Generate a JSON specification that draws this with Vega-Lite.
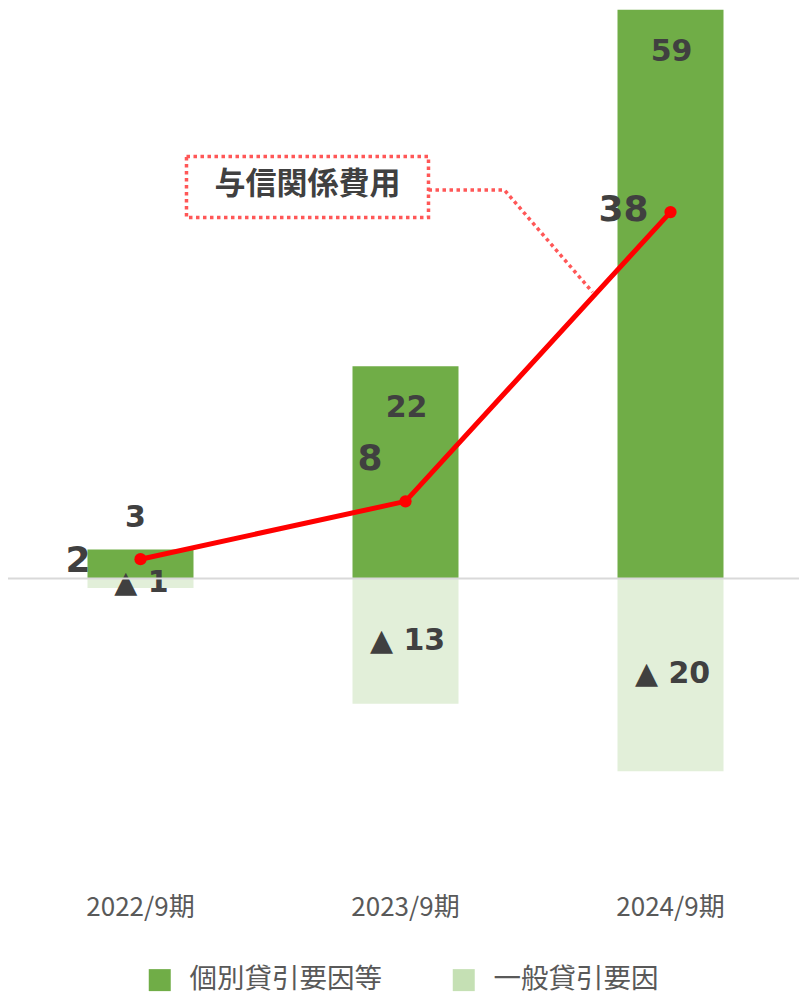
{
  "$schema": "https://vega.github.io/schema/vega-lite/v6.json",
  "autosize": "none",
  "width": 795,
  "height": 887,
  "padding": {"left": 8, "top": 0, "right": 0, "bottom": 109},
  "background": "white",
  "config": {"view": {"stroke": null}, "font": "Noto Sans CJK JP"},
  "data": {
    "values": [
      {"period": "2022/9期", "series": "個別貸引要因等", "value": 3, "label": "3"},
      {"period": "2022/9期", "series": "一般貸引要因", "value": -1, "label": "▲ 1"},
      {"period": "2022/9期", "series": "与信関係費用", "value": 2, "label": "2"},
      {"period": "2023/9期", "series": "個別貸引要因等", "value": 22, "label": "22"},
      {"period": "2023/9期", "series": "一般貸引要因", "value": -13, "label": "▲ 13"},
      {"period": "2023/9期", "series": "与信関係費用", "value": 8, "label": "8"},
      {"period": "2024/9期", "series": "個別貸引要因等", "value": 59, "label": "59"},
      {"period": "2024/9期", "series": "一般貸引要因", "value": -20, "label": "▲ 20"},
      {"period": "2024/9期", "series": "与信関係費用", "value": 38, "label": "38"}
    ]
  },
  "layer": [
    {
      "encoding": {
        "x": {
          "field": "period", "type": "nominal",
          "sort": ["2022/9期", "2023/9期", "2024/9期"],
          "scale": {"paddingInner": 0.6, "paddingOuter": 0.3},
          "axis": {"title": null, "domain": false, "ticks": false, "tickSize": 0, "labelAngle": 0, "labelPadding": 7, "labelFont": "Noto Sans CJK JP", "labelFontSize": 26, "labelColor": "#595959", "labelBaseline": "top"}
        },
        "y": {
          "field": "value", "type": "quantitative",
          "scale": {"domain": [-32, 60], "nice": false, "zero": true},
          "axis": null
        }
      },
      "layer": [
        {
          "transform": [{"filter": "datum.series === '個別貸引要因等'"}],
          "mark": {"type": "bar"},
          "encoding": {
            "color": {
              "field": "series", "type": "nominal",
              "scale": {"domain": ["個別貸引要因等", "一般貸引要因"], "range": ["#70AD47", "#C5E0B4"]},
              "legend": {"title": null, "orient": "none", "direction": "horizontal", "legendX": 138, "legendY": 966, "symbolType": "square", "symbolSize": 484, "symbolStrokeWidth": 0, "symbolOpacity": 1, "labelFont": "Noto Sans CJK JP", "labelFontSize": 27.5, "labelColor": "#595959", "labelOffset": 16, "labelLimit": 400, "columnPadding": 68,
                "encode": {"symbols": {"update": {"opacity": {"value": 1}, "fillOpacity": {"value": 1}}}}}
            }
          }
        },
        {
          "transform": [{"filter": "datum.series === '一般貸引要因'"}],
          "mark": {"type": "bar", "opacity": 0.5},
          "encoding": {"color": {"field": "series", "type": "nominal"}}
        },
        {
          "transform": [{"filter": "datum.series === '与信関係費用'"}],
          "mark": {"type": "line", "color": "#FF0000", "strokeWidth": 5},
          "encoding": {}
        },
        {
          "transform": [{"filter": "datum.series === '与信関係費用'"}],
          "mark": {"type": "point", "filled": true, "color": "#FF0000", "size": 150, "opacity": 1},
          "encoding": {}
        },
        {
          "transform": [{"filter": "datum.series === '個別貸引要因等' && datum.period === '2022/9期'"}],
          "mark": {"type": "text", "font": "DejaVu Sans", "fontWeight": "bold", "fontSize": 30, "color": "#404040", "dx": -5, "dy": -32, "baseline": "middle"},
          "encoding": {"text": {"field": "label"}}
        },
        {
          "transform": [{"filter": "datum.series === '個別貸引要因等' && datum.period !== '2022/9期'"}],
          "mark": {"type": "text", "font": "DejaVu Sans", "fontWeight": "bold", "fontSize": 30, "color": "#404040", "dx": 1, "dy": 42, "baseline": "middle"},
          "encoding": {"text": {"field": "label"}}
        },
        {
          "transform": [{"filter": "datum.series === '一般貸引要因' && datum.period === '2022/9期'"}],
          "mark": {"type": "text", "font": "DejaVu Sans", "fontWeight": "bold", "fontSize": 30, "color": "#404040", "dx": 1, "dy": -5, "baseline": "middle"},
          "encoding": {"text": {"field": "label"}}
        },
        {
          "transform": [{"filter": "datum.series === '一般貸引要因' && datum.period === '2023/9期'"}],
          "mark": {"type": "text", "font": "DejaVu Sans", "fontWeight": "bold", "fontSize": 30, "color": "#404040", "dx": 2, "dy": -63, "baseline": "middle"},
          "encoding": {"text": {"field": "label"}}
        },
        {
          "transform": [{"filter": "datum.series === '一般貸引要因' && datum.period === '2024/9期'"}],
          "mark": {"type": "text", "font": "DejaVu Sans", "fontWeight": "bold", "fontSize": 30, "color": "#404040", "dx": 2, "dy": -97, "baseline": "middle"},
          "encoding": {"text": {"field": "label"}}
        },
        {
          "transform": [{"filter": "datum.series === '与信関係費用' && datum.period === '2022/9期'"}],
          "mark": {"type": "text", "font": "DejaVu Sans", "fontWeight": "bold", "fontSize": 36, "color": "#404040", "align": "right", "dx": -50, "dy": 2, "baseline": "middle"},
          "encoding": {"text": {"field": "label"}}
        },
        {
          "transform": [{"filter": "datum.series === '与信関係費用' && datum.period === '2023/9期'"}],
          "mark": {"type": "text", "font": "DejaVu Sans", "fontWeight": "bold", "fontSize": 36, "color": "#404040", "align": "right", "dx": -23, "dy": -42, "baseline": "middle"},
          "encoding": {"text": {"field": "label"}}
        },
        {
          "transform": [{"filter": "datum.series === '与信関係費用' && datum.period === '2024/9期'"}],
          "mark": {"type": "text", "font": "DejaVu Sans", "fontWeight": "bold", "fontSize": 36, "color": "#404040", "align": "right", "dx": -22, "dy": -2, "baseline": "middle"},
          "encoding": {"text": {"field": "label"}}
        }
      ]
    },
    {
      "data": {"values": [{"base": 0}]},
      "mark": {"type": "rule", "color": "#D9D9D9", "strokeWidth": 2},
      "encoding": {"x": {"value": 0}, "x2": {"value": 795}, "y": {"field": "base", "type": "quantitative"}}
    },
    {
      "data": {"values": [{"note": "与信関係費用"}]},
      "mark": {"type": "point", "filled": false, "shape": "M-1.81,-0.252H0.19V0.252H-1.81Z M0.19,0.025L0.818,0.025L1.545,0.868", "size": 58564, "stroke": "#FF5757", "strokeWidth": 3.5, "strokeDash": [3.5, 3.5], "opacity": 1},
      "encoding": {"x": {"datum": "2023/9期"}, "y": {"datum": 40.6}}
    },
    {
      "data": {"values": [{"note": "与信関係費用"}]},
      "mark": {"type": "text", "font": "Noto Sans CJK JP", "fontWeight": "bold", "fontSize": 31, "color": "#404040", "dx": -98, "dy": -2, "baseline": "middle"},
      "encoding": {"x": {"datum": "2023/9期"}, "y": {"datum": 40.6}, "text": {"field": "note"}}
    }
  ]
}
